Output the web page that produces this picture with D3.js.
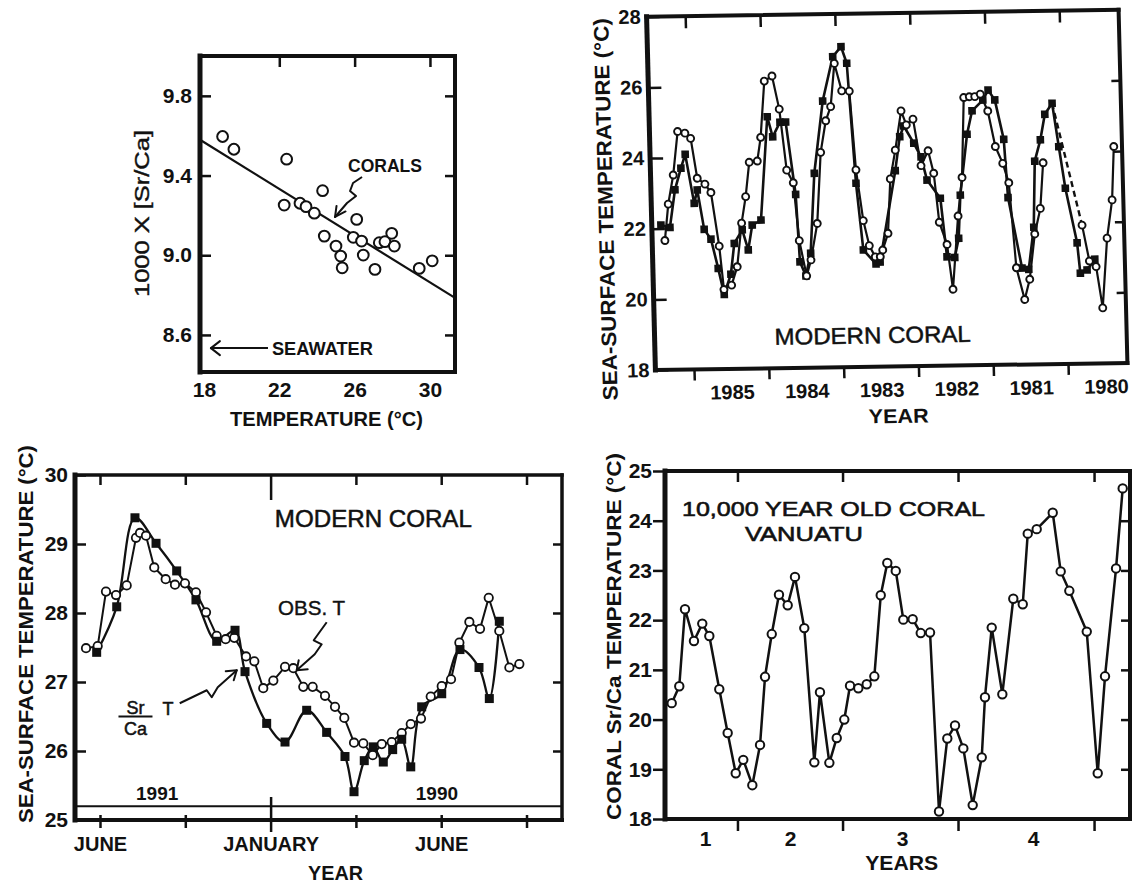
<!DOCTYPE html>
<html>
<head>
<meta charset="utf-8">
<script src="https://cdn.jsdelivr.net/npm/d3@7/dist/d3.min.js"></script>
<style>
  html,body{margin:0;padding:0;background:#fff;}
  svg{display:block;}
</style>
</head>
<body>
<svg id="chart" width="1132" height="883"></svg>
<script>
// ================= DATA =================
// Panel A : coral Sr/Ca vs temperature
const calTemp = [18.99, 19.59, 22.39, 22.26, 23.10, 23.42, 23.86, 24.30, 24.39, 25.01, 25.26, 25.34,
                 25.93, 26.11, 26.37, 26.46, 27.08, 27.31, 27.61, 27.97, 28.11, 29.43, 30.12];
const calSrCa = [9.596, 9.532, 9.482, 9.252, 9.261, 9.244, 9.211, 9.324, 9.096, 9.046, 8.996, 8.937,
                 9.090, 9.180, 9.071, 9.001, 8.929, 9.063, 9.068, 9.110, 9.046, 8.934, 8.972];
const calFit = [10.622, -0.0586];           // intercept, slope of the coral line
const calXTicks = [18, 22, 26, 30];
const calYTicks = [9.8, 9.4, 9.0, 8.6];
const seawaterSrCa = 8.534;

// Panel B : modern coral 1980-1986 (decimal years)
const bObsYear = [1986.346, 1986.289, 1986.213, 1986.140, 1986.043, 1985.968, 1985.893, 1985.792, 1985.715, 1985.622,
  1985.573, 1985.469, 1985.388, 1985.315, 1985.252, 1985.193, 1985.085, 1985.032, 1984.965, 1984.860,
  1984.774, 1984.695, 1984.611, 1984.550, 1984.463, 1984.400, 1984.304, 1984.235, 1984.157, 1984.086,
  1984.023, 1983.933, 1983.832, 1983.769, 1983.688, 1983.616, 1983.540, 1983.473, 1983.438, 1983.362,
  1983.313, 1983.237, 1983.147, 1983.081, 1982.990, 1982.898, 1982.799, 1982.731, 1982.673, 1982.577,
  1982.512, 1982.420, 1982.354, 1982.305, 1982.230, 1982.157, 1982.082, 1981.988, 1981.899, 1981.805,
  1981.731, 1981.658, 1981.557, 1981.483, 1981.401, 1981.318, 1981.266, 1981.0,
  1980.766, 1980.680, 1980.592, 1980.517, 1980.436, 1980.356, 1980.316];
const bObsTemp = [21.66, 22.69, 23.51, 24.74, 24.69, 24.54, 23.41, 23.24, 23.00, 21.48,
  20.25, 20.37, 20.89, 22.12, 22.87, 23.84, 23.87, 24.54, 26.13, 26.27,
  25.33, 23.60, 23.24, 21.60, 20.60, 21.05, 22.08, 24.09, 24.98, 25.38,
  26.60, 25.82, 25.81, 23.58, 22.14, 21.43, 21.11, 21.11, 21.30, 21.77,
  23.31, 24.12, 25.23, 24.83, 24.99, 23.67, 24.09, 23.45, 22.06, 21.43,
  20.16, 22.23, 23.32, 25.58, 25.60, 25.60, 25.67, 25.19, 24.18, 23.70,
  23.15, 20.74, 19.84, 20.41, 21.69, 22.41, 23.70, null,
  21.92, 20.90, 20.74, 19.57, 21.54, 22.62, 24.13];
const bSrYear = [1986.394, 1986.274, 1986.195, 1986.108, 1986.046, 1985.942, 1985.897, 1985.817, 1985.730, 1985.643,
  1985.571, 1985.475, 1985.420, 1985.309, 1985.235, 1985.174, 1985.055, 1984.937, 1984.871, 1984.769,
  1984.693, 1984.583, 1984.548, 1984.473, 1984.402, 1984.327, 1984.191, 1984.042, 1983.928, 1983.857,
  1983.773, 1983.697, 1983.533, 1983.477, 1983.244, 1983.173, 1983.116, 1982.988, 1982.895, 1982.823,
  1982.651, 1982.581, 1982.478, 1982.419, 1982.383, 1982.273, 1982.198, 1982.051, 1981.977, 1981.891,
  1981.784, 1981.746, 1981.582, 1981.493, 1981.412, 1981.377, 1981.295, 1981.227, 1981.126, 1981.051,
  1980.977, 1980.838, 1980.805, 1980.714, 1980.607];
const bSrTemp = [22.10, 22.03, 23.09, 23.70, 24.09, 22.70, 23.08, 21.96, 21.68, 20.85,
  20.11, 20.68, 21.55, 21.93, 21.36, 22.06, 22.20, 25.12, 24.55, 24.96,
  24.96, 22.91, 21.00, 20.60, 21.24, 23.50, 25.54, 26.79, 27.07, 26.60,
  23.20, 21.31, 20.91, 20.96, 23.54, 24.50, 24.80, 24.31, 23.92, 23.26,
  22.74, 21.08, 21.06, 21.60, 22.82, 24.54, 25.20, 25.50, 25.78, 25.50,
  24.38, 22.73, 20.73, 20.69, 21.88, 23.75, 24.35, 25.07, 25.38, 24.15,
  22.97, 21.42, 20.56, 20.65, 20.95];
const bGapYear = [1981.126, 1980.766];      // dashed interpolation of observed T
const bGapTemp = [25.38, 21.92];
const bYTicks = [18, 20, 22, 24, 26, 28];
const bYearBounds = [1986, 1985, 1984, 1983, 1982, 1981];
const bYearLabels = [1985, 1984, 1983, 1982, 1981, 1980];

// Panel C : modern coral 1990-1991 (position along time axis, tick units)
const cObsPos = [-0.164, -0.027, 0.070, 0.188, 0.313, 0.422, 0.469, 0.539, 0.636, 0.770, 0.879, 0.996,
  1.125, 1.243, 1.368, 1.473, 1.574, 1.712, 1.809, 1.914, 2.032, 2.169, 2.266, 2.383, 2.493, 2.638,
  2.755, 2.864, 2.978, 3.087, 3.197, 3.303, 3.420, 3.537, 3.643, 3.763, 3.877, 4.006, 4.115, 4.213,
  4.330, 4.455, 4.557, 4.681, 4.799, 4.916];
const cObsTemp = [27.49, 27.52, 28.31, 28.26, 28.40, 29.09, 29.16, 29.12, 28.66, 28.49, 28.41, 28.43,
  28.30, 28.01, 27.67, 27.62, 27.64, 27.37, 27.30, 26.91, 27.02, 27.22, 27.20, 26.93, 26.93, 26.80,
  26.64, 26.48, 26.12, 26.11, 25.94, 26.10, 26.13, 26.26, 26.39, 26.47, 26.79, 26.94, 27.04, 27.57,
  27.87, 27.77, 28.22, 27.74, 27.21, 27.26];
const cSrPos = [-0.039, 0.196, 0.410, 0.657, 0.899, 1.125, 1.368, 1.583, 1.700, 1.954, 2.169, 2.423,
  2.657, 2.872, 2.978, 3.098, 3.204, 3.321, 3.431, 3.537, 3.643, 3.771, 4.006, 4.220, 4.443, 4.564, 4.681];
const cSrTemp = [27.43, 28.09, 29.38, 29.01, 28.61, 28.19, 27.59, 27.75, 27.15, 26.40, 26.13, 26.59,
  26.27, 25.92, 25.41, 25.86, 26.06, 25.84, 26.02, 26.17, 25.77, 26.64, 26.83, 27.47, 27.21, 26.76, 27.88];
const cYTicks = [25, 26, 27, 28, 29, 30];
const cXTicks = [0, 1, 2, 3, 4, 5];
const cXLabelPos = [0, 2, 4];
const cXLabels = ['JUNE', 'JANUARY', 'JUNE'];
const cYearNames = ['1991', '1990'];
const cYearPos = [0.67, 3.95];
const cSeparator = 25.2;

// Panel D : 10,000 year old coral, Vanuatu (position along coral growth axis)
const dPos = [0.81, 1.72, 2.41, 3.49, 4.49, 5.34, 6.54, 7.55, 8.52, 9.43, 10.52, 11.45, 12.05, 12.86,
  13.73, 14.78, 15.66, 16.78, 17.99, 18.67, 19.80, 20.69, 21.60, 22.29, 23.29, 24.30, 25.22, 25.99,
  26.78, 27.80, 28.71, 29.84, 30.81, 31.93, 33.01, 34.01, 34.94, 35.94, 37.07, 38.16, 38.55, 39.36,
  40.64, 41.96, 43.10, 43.70, 44.78, 46.71, 47.67, 48.71, 50.81, 52.13, 53.01, 54.34, 55.14];
const dTemp = [20.33, 20.67, 22.22, 21.58, 21.93, 21.68, 20.61, 19.73, 18.92, 19.19, 18.68, 19.49, 20.86, 21.72,
  22.51, 22.30, 22.87, 21.84, 19.14, 20.55, 19.13, 19.63, 20.00, 20.68, 20.63, 20.71, 20.87, 22.50,
  23.15, 22.99, 22.01, 22.02, 21.74, 21.75, 18.15, 19.62, 19.88, 19.42, 18.28, 19.24, 20.45, 21.85,
  20.51, 22.43, 22.32, 23.74, 23.83, 24.16, 22.98, 22.59, 21.77, 18.92, 20.87, 23.04, 24.65];
const dYTicks = [18, 19, 20, 21, 22, 23, 24, 25];
const dYearBounds = [8.73, 21.39, 35.3, 51.69];
const dYearLabelPos = [4.82, 15.06, 28.55, 44.34];
const dYearLabels = ['1', '2', '3', '4'];

// ================= DRAWING =================
const INK = '#111';
const FONT = '"Liberation Sans", Arial, Helvetica, sans-serif';
const svg = d3.select('#chart');
svg.append('rect').attr('width', 1132).attr('height', 883).attr('fill', '#fff');

function frame(g, x0, x1, y0, y1, w) {
  const L = [[x0, y0, x1, y0, w[0]], [x1, y0, x1, y1, w[1]], [x0, y1, x1, y1, w[2]], [x0, y0, x0, y1, w[3]]];
  g.selectAll(null).data(L).join('line')
    .attr('x1', d => d[0]).attr('y1', d => d[1]).attr('x2', d => d[2]).attr('y2', d => d[3])
    .attr('stroke', INK).attr('stroke-width', d => d[4]).attr('stroke-linecap', 'square');
}
function styleAxis(sel, size, weight, tw) {
  sel.select('.domain').remove();
  sel.selectAll('.tick line').attr('stroke', INK).attr('stroke-width', tw || 2.5);
  sel.selectAll('.tick text').attr('fill', INK).attr('font-family', FONT)
    .attr('font-size', size).attr('font-weight', weight || 'bold');
  return sel;
}
function txt(g, s, x, y, o) {
  o = o || {};
  const t = g.append('text').text(s).attr('x', x).attr('y', y)
    .attr('font-family', FONT).attr('font-size', o.size || 20)
    .attr('font-weight', o.weight || 'normal').attr('fill', INK)
    .attr('text-anchor', o.anchor || 'start');
  if (o.len) t.attr('textLength', o.len).attr('lengthAdjust', 'spacingAndGlyphs');
  if (o.stroke) t.attr('stroke', INK).attr('stroke-width', o.stroke);
  if (o.rot) t.attr('transform', `rotate(${o.rot},${x},${y})`);
  return t;
}
function squiggle(g, x, y, pts, arms, w) {
  g.append('path').attr('d', d3.line()(pts.map(p => [x + p[0], y + p[1]])))
    .attr('fill', 'none').attr('stroke', INK).attr('stroke-width', w || 2).attr('stroke-linejoin', 'round');
  arms.forEach(a => g.append('line').attr('x1', x).attr('y1', y).attr('x2', x + a[0]).attr('y2', y + a[1])
    .attr('stroke', INK).attr('stroke-width', w || 2).attr('stroke-linecap', 'round'));
}

// ---------- Panel A ----------
{
  const g = svg.append('g');
  const x = d3.scaleLinear().domain([17.79, 31.33]).range([200, 455]);
  const y = d3.scaleLinear().domain([8.414, 10.0]).range([372, 56]);
  const [x0, x1] = x.range(), [y1, y0] = y.range();
  styleAxis(g.append('g').attr('transform', `translate(${x0},0)`)
    .call(d3.axisLeft(y).tickValues(calYTicks).tickSize(-11).tickPadding(8).tickFormat(d3.format('.1f'))), 21);
  styleAxis(g.append('g').attr('transform', `translate(${x1},0)`)
    .call(d3.axisRight(y).tickValues(calYTicks).tickSize(-10).tickFormat('')), 20);
  styleAxis(g.append('g').attr('transform', `translate(0,${y0})`)
    .call(d3.axisTop(x).tickValues(calXTicks.slice(1)).tickSize(-11).tickFormat('')), 20);
  styleAxis(g.append('g').attr('transform', `translate(0,${y1})`)
    .call(d3.axisBottom(x).tickValues(calXTicks).tickSize(0).tickPadding(10)), 21);
  frame(g, x0, x1, y0, y1, [4, 4, 4, 5]);
  const dom = x.domain();
  g.append('line').attr('x1', x(dom[0])).attr('y1', y(calFit[0] + calFit[1] * dom[0]))
    .attr('x2', x(dom[1])).attr('y2', y(calFit[0] + calFit[1] * dom[1]))
    .attr('stroke', INK).attr('stroke-width', 2.2);
  g.selectAll(null).data(calTemp.map((t, i) => [t, calSrCa[i]])).join('circle')
    .attr('cx', d => x(d[0])).attr('cy', d => y(d[1])).attr('r', 5.4)
    .attr('fill', '#fff').attr('stroke', INK).attr('stroke-width', 2);
  // annotations
  txt(g, 'CORALS', x(25.65), y(9.42), {size: 18, weight: 'bold', len: 74});
  squiggle(g, x(24.96), y(9.192), [[27, -40], [18, -34], [15, -26], [21, -21], [12, -14], [0, 0]], [[1.5, -11], [10.5, -5.5]], 2);
  const sy = y(seawaterSrCa);
  g.append('line').attr('x1', x(18.37)).attr('y1', sy).attr('x2', x(21.4)).attr('y2', sy).attr('stroke', INK).attr('stroke-width', 2);
  squiggle(g, x(18.37), sy, [[0, 0]], [[9, -7], [9, 7]], 2);
  txt(g, 'SEAWATER', x(21.61), y(8.50), {size: 18, weight: 'bold', len: 101});
  txt(g, 'TEMPERATURE (°C)', 326.5, 426, {size: 20, weight: 'bold', anchor: 'middle', len: 193});
  txt(g, '1000 X [Sr/Ca]', 149, 213.5, {size: 21, anchor: 'middle', len: 167, rot: -90, stroke: 0.4});
}

// ---------- Panel B ----------
{
  const g = svg.append('g').attr('transform', 'translate(888,190) matrix(1,-0.015,0.025,1,0,0) translate(-888,-190)');
  const x = d3.scaleLinear().domain([1986.516, 1980.206]).range([651, 1123]);
  const y = d3.scaleLinear().domain([18, 28]).range([366.5, 13.2]);
  const [x0, x1] = x.range(), [y1, y0] = y.range();
  styleAxis(g.append('g').attr('transform', `translate(${x0},0)`)
    .call(d3.axisLeft(y).tickValues(bYTicks).tickSize(-13).tickPadding(6).tickFormat(d3.format('d'))), 20);
  styleAxis(g.append('g').attr('transform', `translate(${x1},0)`)
    .call(d3.axisRight(y).tickValues(bYTicks.slice(1, -1)).tickSize(-9).tickFormat('')), 20);
  styleAxis(g.append('g').attr('transform', `translate(0,${y0})`)
    .call(d3.axisTop(x).tickValues(bYearBounds).tickSize(-12).tickFormat('')), 20);
  styleAxis(g.append('g').attr('transform', `translate(0,${y1})`)
    .call(d3.axisBottom(x).tickValues(bYearBounds).tickSize(11).tickFormat('')), 20);
  styleAxis(g.append('g').attr('transform', `translate(0,${y1})`)
    .call(d3.axisBottom(x).tickValues(bYearLabels.map(v => v + 0.5)).tickSize(0).tickPadding(16)
      .tickFormat(d => String(Math.floor(d)))), 20);
  frame(g, x0, x1, y0, y1, [4, 4, 4, 5]);

  const obs = bObsYear.map((v, i) => [v, bObsTemp[i]]);
  const sr = bSrYear.map((v, i) => [v, bSrTemp[i]]);
  const line = d3.line().defined(d => d[1] != null).x(d => x(d[0])).y(d => y(d[1]));
  g.append('path').attr('d', line(sr)).attr('fill', 'none').attr('stroke', INK).attr('stroke-width', 2.6).attr('stroke-linejoin', 'round');
  g.append('path').attr('d', line(obs)).attr('fill', 'none').attr('stroke', INK).attr('stroke-width', 2.2).attr('stroke-linejoin', 'round');
  g.append('path').attr('d', line(bGapYear.map((v, i) => [v, bGapTemp[i]])))
    .attr('fill', 'none').attr('stroke', INK).attr('stroke-width', 2.4).attr('stroke-dasharray', '6,4');
  g.selectAll(null).data(sr).join('rect')
    .attr('x', d => x(d[0]) - 3.8).attr('y', d => y(d[1]) - 3.8).attr('width', 7.6).attr('height', 7.6).attr('fill', INK);
  g.selectAll(null).data(obs.filter(d => d[1] != null)).join('circle')
    .attr('cx', d => x(d[0])).attr('cy', d => y(d[1])).attr('r', 3.5)
    .attr('fill', '#fff').attr('stroke', INK).attr('stroke-width', 1.9);

  txt(g, 'MODERN CORAL', 869, 343, {size: 23, anchor: 'middle', len: 196, stroke: 0.5});
  txt(g, 'YEAR', 893, 423, {size: 20, weight: 'bold', anchor: 'middle', len: 60});
  txt(g, 'SEA-SURFACE TEMPERATURE (°C)', 612.5, 205, {size: 21, weight: 'bold', anchor: 'middle', len: 382, rot: -90});
}

// ---------- Panel C ----------
{
  const g = svg.append('g');
  const x = d3.scaleLinear().domain([-0.293, 5.416]).range([75, 562]);
  const y = d3.scaleLinear().domain([25, 30]).range([820, 475]);
  const [x0, x1] = x.range(), [y1, y0] = y.range();
  styleAxis(g.append('g').attr('transform', `translate(${x0},0)`)
    .call(d3.axisLeft(y).tickValues(cYTicks).tickSize(-11).tickPadding(7).tickFormat(d3.format('d'))), 21);
  styleAxis(g.append('g').attr('transform', `translate(${x1},0)`)
    .call(d3.axisRight(y).tickValues(cYTicks.slice(1, -1)).tickSize(-9).tickFormat('')), 20);
  const top = styleAxis(g.append('g').attr('transform', `translate(0,${y0})`)
    .call(d3.axisTop(x).tickValues(cXTicks).tickSize(-10).tickFormat('')), 20);
  top.selectAll('.tick line').filter(d => d === 2).attr('y2', 25);
  const bot = styleAxis(g.append('g').attr('transform', `translate(0,${y1})`)
    .call(d3.axisBottom(x).tickValues(cXTicks).tickSize(8).tickFormat('')), 20);
  bot.selectAll('.tick line').attr('y1', -5);
  bot.selectAll('.tick line').filter(d => d === 2).attr('y1', -23).attr('y2', 12);
  styleAxis(g.append('g').attr('transform', `translate(0,${y1})`)
    .call(d3.axisBottom(x).tickValues(cXLabelPos).tickSize(0).tickPadding(16.5)
      .tickFormat((d, i) => cXLabels[i])), 20);
  frame(g, x0, x1, y0, y1, [3.5, 3.5, 4, 5]);
  g.append('line').attr('x1', x0).attr('x2', x1).attr('y1', y(cSeparator)).attr('y2', y(cSeparator))
    .attr('stroke', INK).attr('stroke-width', 2);
  cYearNames.forEach((s, i) => txt(g, s, x(cYearPos[i]), y(25.29), {size: 19, weight: 'bold', anchor: 'middle'}));

  const obs = cObsPos.map((v, i) => [v, cObsTemp[i]]);
  const sr = cSrPos.map((v, i) => [v, cSrTemp[i]]);
  g.append('path').attr('d', d3.line().curve(d3.curveCatmullRom.alpha(0.5)).x(d => x(d[0])).y(d => y(d[1]))(sr))
    .attr('fill', 'none').attr('stroke', INK).attr('stroke-width', 2.3);
  g.append('path').attr('d', d3.line().x(d => x(d[0])).y(d => y(d[1]))(obs))
    .attr('fill', 'none').attr('stroke', INK).attr('stroke-width', 2).attr('stroke-linejoin', 'round');
  g.selectAll(null).data(obs).join('circle')
    .attr('cx', d => x(d[0])).attr('cy', d => y(d[1])).attr('r', 4.2)
    .attr('fill', '#fff').attr('stroke', INK).attr('stroke-width', 1.8);
  g.selectAll(null).data(sr).join('rect')
    .attr('x', d => x(d[0]) - 4.5).attr('y', d => y(d[1]) - 4.5).attr('width', 9).attr('height', 9).attr('fill', INK);

  txt(g, 'MODERN CORAL', x(2.05), y(29.25), {size: 23, len: 197, stroke: 0.5});
  txt(g, 'OBS. T', x(2.087), y(27.97), {size: 20, len: 67, stroke: 0.4});
  squiggle(g, x(2.306), y(27.17), [[30, -48], [17, -30], [25, -26], [18, -16], [0, 0]], [[2, -10], [11, -1]], 2);
  // Sr/Ca T label
  const fx = x(0.416), fy = y(26.50);
  txt(g, 'Sr', fx, fy - 3, {size: 18, anchor: 'middle', stroke: 0.5});
  g.append('line').attr('x1', fx - 17).attr('x2', fx + 17).attr('y1', fy).attr('y2', fy).attr('stroke', INK).attr('stroke-width', 2);
  txt(g, 'Ca', fx, fy + 18, {size: 18, anchor: 'middle', stroke: 0.5});
  txt(g, 'T', fx + 27, fy - 1.5, {size: 18, stroke: 0.5});
  squiggle(g, x(1.603), y(27.17), [[-57, 33], [-30, 20], [-25, 27], [-19, 17], [0, 0]], [[-11, 1], [-3, 10]], 2);

  txt(g, 'YEAR', 335.5, 880, {size: 20, weight: 'bold', anchor: 'middle', len: 55});
  txt(g, 'SEA-SURFACE TEMPERATURE (°C)', 33, 634, {size: 21, weight: 'bold', anchor: 'middle', len: 378, rot: -90});
}

// ---------- Panel D ----------
{
  const g = svg.append('g');
  const x = d3.scaleLinear().domain([0, 56.02]).range([665, 1130]);
  const y = d3.scaleLinear().domain([18, 25]).range([819, 471]);
  const [x0, x1] = x.range(), [y1, y0] = y.range();
  styleAxis(g.append('g').attr('transform', `translate(${x0},0)`)
    .call(d3.axisLeft(y).tickValues(dYTicks).tickSize(12).tickPadding(1).tickFormat(d3.format('d'))), 21);
  styleAxis(g.append('g').attr('transform', `translate(${x1},0)`)
    .call(d3.axisRight(y).tickValues(dYTicks.slice(1, -1)).tickSize(-9).tickFormat('')), 20);
  styleAxis(g.append('g').attr('transform', `translate(0,${y0})`)
    .call(d3.axisTop(x).tickValues(dYearBounds).tickSize(-11).tickFormat('')), 20);
  styleAxis(g.append('g').attr('transform', `translate(0,${y1})`)
    .call(d3.axisBottom(x).tickValues(dYearBounds).tickSize(12).tickFormat('')), 20);
  styleAxis(g.append('g').attr('transform', `translate(0,${y1})`)
    .call(d3.axisBottom(x).tickValues(dYearLabelPos).tickSize(0).tickPadding(12)
      .tickFormat((d, i) => dYearLabels[i])), 21);
  frame(g, x0, x1, y0, y1, [4, 4, 4, 5]);

  const pts = dPos.map((v, i) => [v, dTemp[i]]);
  g.append('path').attr('d', d3.line().x(d => x(d[0])).y(d => y(d[1]))(pts))
    .attr('fill', 'none').attr('stroke', INK).attr('stroke-width', 2.5).attr('stroke-linejoin', 'round');
  g.selectAll(null).data(pts).join('circle')
    .attr('cx', d => x(d[0])).attr('cy', d => y(d[1])).attr('r', 4.2)
    .attr('fill', '#fff').attr('stroke', INK).attr('stroke-width', 2);

  txt(g, '10,000 YEAR OLD CORAL', x(2.05), y(24.09), {size: 21, len: 303, stroke: 0.6});
  txt(g, 'VANUATU', x(9.64), y(23.60), {size: 21, len: 118, stroke: 0.6});
  txt(g, 'YEARS', 901.7, 870, {size: 20, weight: 'bold', anchor: 'middle', len: 73});
  txt(g, 'CORAL Sr/Ca TEMPERATURE (°C)', 620.5, 636.5, {size: 21, weight: 'bold', anchor: 'middle', len: 367, rot: -90});
}
</script>
</body>
</html>
